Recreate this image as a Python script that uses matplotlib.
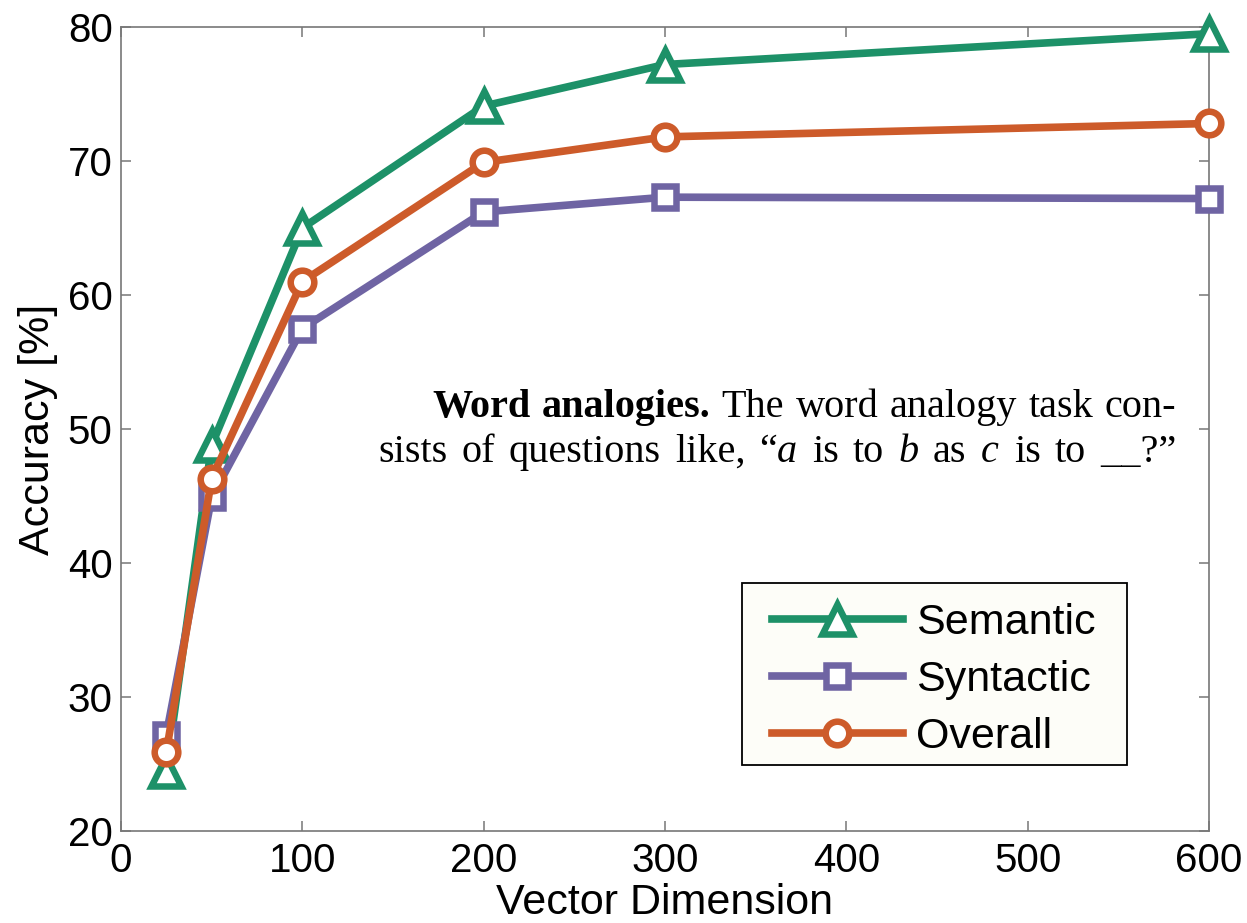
import numpy as np
import matplotlib
matplotlib.use("Agg")
import matplotlib.pyplot as plt
from matplotlib.patches import Rectangle

# data
dims = [25, 50, 100, 200, 300, 600]
semantic = [24.5, 48.8, 65.0, 74.1, 77.2, 79.5]
syntactic = [27.2, 44.9, 57.5, 66.2, 67.3, 67.2]
overall = [25.9, 46.3, 61.0, 69.9, 71.8, 72.8]

xticks = [0, 100, 200, 300, 400, 500, 600]
yticks = [20, 30, 40, 50, 60, 70, 80]

# caption words, (word, bold)
line1 = [('Word', True), ('analogies.', True), ('The', False), ('word', False),
         ('analogy', False), ('task', False), ('con-', False)]
line2 = [('sists', False), ('of', False), ('questions', False), ('like,', False),
         ('“$a$', False), ('is', False), ('to', False), ('$b$', False),
         ('as', False), ('$c$', False), ('is', False), ('to', False),
         ('__?”', False)]

green = '#1d9168'
purple = '#6f64a3'
orange = '#cd5b2a'
spine_gray = '#777777'

plt.rcParams['font.family'] = ['Liberation Sans', 'DejaVu Sans']
plt.rcParams['mathtext.fontset'] = 'custom'
plt.rcParams['mathtext.rm'] = 'Liberation Serif'
plt.rcParams['mathtext.it'] = 'Liberation Serif:italic'
plt.rcParams['mathtext.bf'] = 'Liberation Serif:bold'

W, H = 1247, 923
fig = plt.figure(figsize=(W / 100, H / 100), dpi=100)
ax = fig.add_axes([121 / W, 92 / H, (1209 - 121) / W, (831 - 27) / H])

lw = 5.5
mew = 4.7
ax.plot(dims, semantic, color=green, lw=lw, marker='^', ms=22, mew=mew,
        mfc='white', label='Semantic', clip_on=False, zorder=3)
ax.plot(dims, syntactic, color=purple, lw=lw, marker='s', ms=16.5, mew=mew,
        mfc='white', label='Syntactic', clip_on=False, zorder=3)
ax.plot(dims, overall, color=orange, lw=lw, marker='o', ms=17, mew=mew,
        mfc='white', label='Overall', clip_on=False, zorder=4)

ax.set_xlim(0, 600)
ax.set_ylim(20, 80)
ax.set_xticks(xticks)
ax.set_yticks(yticks)
ax.tick_params(direction='in', length=7, width=1.1, color=spine_gray,
               top=True, right=True, labelsize=29, pad=6)
ax.tick_params(axis='x', pad=8)
for s in ax.spines.values():
    s.set_color(spine_gray)
    s.set_linewidth(1.2)

ax.set_xlabel('Vector Dimension', fontsize=31, labelpad=2)
ax.set_ylabel('Accuracy [%]', fontsize=31, labelpad=7)

# legend box drawn separately so its padding can match
ax.add_patch(Rectangle((742 / W, 1 - 765 / H), (1127 - 742) / W, (765 - 583) / H,
                       transform=fig.transFigure, facecolor='#fdfdf8',
                       edgecolor='black', lw=1.3, zorder=4.5))
leg = ax.legend(loc='upper left', bbox_to_anchor=(771.5 / W, 1 - 603 / H),
                bbox_transform=fig.transFigure, borderaxespad=0, borderpad=0,
                fontsize=31, handlelength=3.05, handletextpad=0.3,
                labelspacing=0.39, frameon=False)
leg.set_zorder(5)


# caption pasted over the plot, justified between x0 and x1 (pixels)
def justified(words, x0, x1, baseline):
    renderer = fig.canvas.get_renderer()
    texts, widths = [], []
    for w, bold in words:
        t = fig.text(0, 1 - baseline / H, w, fontsize=29, va='baseline',
                     family='Liberation Serif',
                     fontweight='bold' if bold else 'normal')
        texts.append(t)
        widths.append(t.get_window_extent(renderer).width)
    gap = (x1 - x0 - sum(widths)) / (len(words) - 1)
    x = x0
    for t, wd in zip(texts, widths):
        t.set_x(x / W)
        x += wd + gap


justified(line1, 432, 1176, 417)
justified(line2, 378, 1176, 462)

fig.savefig('out.png', dpi=100)
